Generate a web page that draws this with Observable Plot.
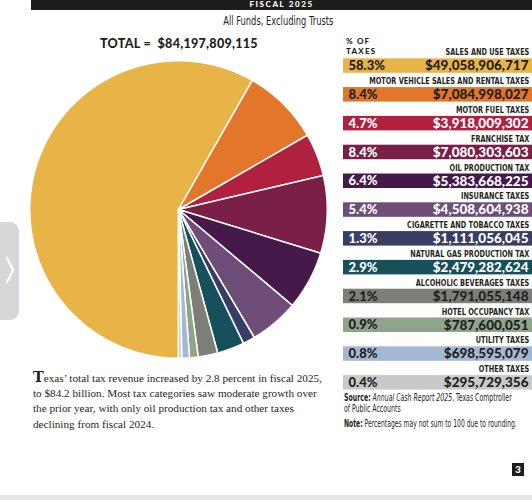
<!DOCTYPE html>
<html><head><meta charset="utf-8">
<script src="https://cdn.jsdelivr.net/npm/d3@7"></script>
<script src="https://cdn.jsdelivr.net/npm/@observablehq/plot@0.6"></script>
<style>
html,body{margin:0;padding:0;background:#fff;}
body{width:532px;height:500px;position:relative;overflow:hidden;color:#231f20;}
.abs{position:absolute;white-space:nowrap;}
.cond{font-family:"Liberation Sans Narrow","DejaVu Sans Condensed","Liberation Sans",sans-serif;}
.squeeze{display:inline-block;transform:scaleX(0.72);transform-origin:0 50%;}
.geo{font-family:"Lato","DejaVu Sans",sans-serif;font-weight:900;}
.serif{font-family:"Liberation Serif","DejaVu Serif",serif;}
</style></head><body>
<div class="abs" style="left:31px;top:0;width:501px;height:9.5px;background:#1d1d1b;"></div>
<div class="abs geo" style="left:31px;width:501px;top:-1px;text-align:center;color:#fff;font-size:8px;letter-spacing:1.6px;line-height:10px;">FISCAL 2025</div>
<div class="abs cond" style="left:31px;width:495px;top:13px;text-align:center;font-size:12.5px;line-height:16px;"><span style="display:inline-block;transform:scaleX(0.74);transform-origin:50% 50%;">All Funds, Excluding Trusts</span></div>
<div class="abs geo" style="left:100px;top:36px;font-size:12.6px;letter-spacing:0.25px;line-height:16px;">TOTAL =&nbsp; $84,197,809,115</div>
<div class="abs geo" style="left:346px;top:36px;font-size:8px;letter-spacing:1.2px;line-height:10px;">% OF<br>TAXES</div>
<div class="abs" style="left:-10px;top:222px;width:29px;height:98px;background:#d6d7d8;border-radius:9px;"></div>
<svg class="abs" style="left:4px;top:256px" width="12" height="28"><path d="M3,2 L9,14 L3,26" fill="none" stroke="#fff" stroke-width="2.2" stroke-linecap="round"/></svg>
<div id="pie" class="abs" style="left:28px;top:59px;"></div>
<div id="legend" class="abs" style="left:343px;top:44px;"></div>
<div class="abs serif" style="left:33px;top:371px;font-size:11.2px;line-height:15.2px;color:#231f20;">
<div><span style="font-family:'DejaVu Serif',serif;font-weight:900;font-size:14.5px;line-height:10px;">T</span>exas’ total tax revenue increased by 2.8 percent in fiscal 2025,</div>
<div>to $84.2 billion. Most tax categories saw moderate growth over</div>
<div>the prior year, with only oil production tax and other taxes</div>
<div>declining from fiscal 2024.</div>
</div>
<div class="abs cond" style="left:344px;top:392px;font-size:9.6px;line-height:11px;"><span class="squeeze"><b>Source:</b> <i>Annual Cash Report 2025</i>, Texas Comptroller<br>of Public Accounts</span></div>
<div class="abs cond" style="left:344px;top:418px;font-size:9.6px;line-height:11px;"><span class="squeeze" style="transform:scaleX(0.7);"><b>Note:</b> Percentages may not sum to 100 due to rounding.</span></div>
<div class="abs geo" style="left:512px;top:463px;width:12px;height:13px;background:#1d1d1b;color:#fff;font-size:10px;line-height:13px;text-align:center;">3</div>
<div class="abs" style="left:0;top:495px;width:532px;height:5px;background:#e6e6e6;"></div>
<script>
const categories = ["Sales and Use Taxes","Motor Vehicle Sales and Rental Taxes","Motor Fuel Taxes","Franchise Tax","Oil Production Tax","Insurance Taxes","Cigarette and Tobacco Taxes","Natural Gas Production Tax","Alcoholic Beverages Taxes","Hotel Occupancy Tax","Utility Taxes","Other Taxes"];
const amounts = [49058906717,7084998027,3918009302,7080303603,5383668225,4508604938,1111056045,2479282624,1791055148,787600051,698595079,295729356];
const percents = ["58.3%","8.4%","4.7%","8.4%","6.4%","5.4%","1.3%","2.9%","2.1%","0.9%","0.8%","0.4%"];

const palette = ["#e8b447","#e2762b","#b0213f","#7a2046","#46194b","#6e4e78","#373d63","#16505a","#7e7e78","#8fa58a","#a3b8d3","#c8caca"];
const lightRows = new Set(["Sales and Use Taxes","Motor Vehicle Sales and Rental Taxes","Alcoholic Beverages Taxes","Hotel Occupancy Tax","Utility Taxes","Other Taxes"]);

const rows = categories.map((name, i) => ({name, amount: amounts[i], pct: percents[i]}));

// pie geometry from the values
const arcs = d3.pie().sort(null).value(d => d.amount).startAngle(Math.PI).endAngle(3 * Math.PI)(rows);
const pts = [];
for (const a of arcs) {
  const n = Math.max(2, Math.ceil((a.endAngle - a.startAngle) / 0.005));
  pts.push({name: a.data.name, x: 0, y: 0});
  for (let i = 0; i <= n; i++) {
    const t = a.startAngle + (a.endAngle - a.startAngle) * i / n;
    pts.push({name: a.data.name, x: Math.sin(t), y: Math.cos(t)});
  }
  pts.push({name: a.data.name, x: 0, y: 0});
}

const pie = Plot.plot({
  width: 300, height: 300, margin: 1.25,
  x: {domain: [-1, 1], axis: null},
  y: {domain: [-1, 1], axis: null},
  color: {domain: categories, range: palette},
  marks: [
    Plot.line(pts, {x: "x", y: "y", z: "name", fill: "name", stroke: "white", strokeWidth: 1.5, strokeLinejoin: "round"})
  ]
});
document.getElementById("pie").appendChild(pie);

const fmt = d3.format(",");
const condFont = "'Liberation Sans Narrow','DejaVu Sans Condensed','Liberation Sans',sans-serif";
const legend = Plot.plot({
  width: 189, height: 346, margin: 0,
  style: {overflow: "visible"},
  y: {type: "band", domain: categories, range: [0, 345.6], padding: 0, round: false, axis: null},
  color: {domain: categories, range: palette},
  marks: [
    Plot.cell(rows, {y: "name", fill: "name", insetTop: 14.3}),
    Plot.text(rows, {y: "name", text: d => d.name.toUpperCase(), frameAnchor: "right", dx: -4, dy: -6.6, fontSize: 9.6, fontWeight: "bold", fill: "#231f20", fontFamily: condFont}),
    Plot.text(rows, {filter: d => lightRows.has(d.name), y: "name", text: "pct", frameAnchor: "left", dx: 5, dy: 7.2, fontSize: 13, fontWeight: 900, fill: "#231f20", fontFamily: "Lato", letterSpacing: 0.6}),
    Plot.text(rows, {filter: d => !lightRows.has(d.name), y: "name", text: "pct", frameAnchor: "left", dx: 5, dy: 7.2, fontSize: 13, fontWeight: 900, fill: "#fff", fontFamily: "Lato", letterSpacing: 0.6}),
    Plot.text(rows, {filter: d => lightRows.has(d.name), y: "name", text: d => "$" + fmt(d.amount), frameAnchor: "right", dx: -4, dy: 7.2, fontSize: 13.5, fontWeight: 900, fill: "#231f20", fontFamily: "Lato"}),
    Plot.text(rows, {filter: d => !lightRows.has(d.name), y: "name", text: d => "$" + fmt(d.amount), frameAnchor: "right", dx: -4, dy: 7.2, fontSize: 13.5, fontWeight: 900, fill: "#fff", fontFamily: "Lato"})
  ]
});
// condense the category labels (first text mark) horizontally about the right edge
const labelGroup = legend.querySelectorAll("g[aria-label='text']")[0];
if (labelGroup) {
  const prev = labelGroup.getAttribute("transform") || "";
  labelGroup.setAttribute("transform", `translate(189,0) scale(0.76,1) translate(-189,0) ${prev}`);
}
document.getElementById("legend").appendChild(legend);
</script>
</body></html>
